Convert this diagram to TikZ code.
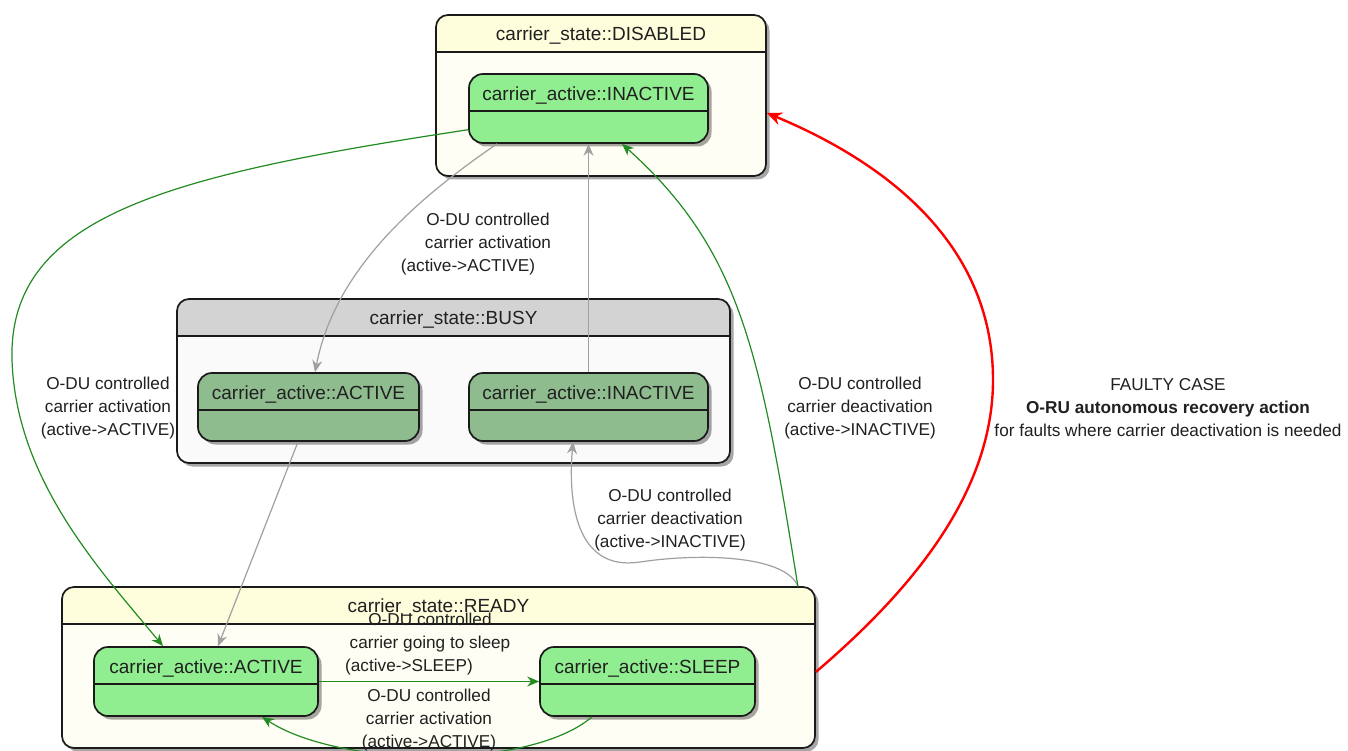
\documentclass[tikz,border=0pt]{standalone}
\usepackage{fontspec}
\setmainfont{Liberation Sans}
\usetikzlibrary{arrows.meta,shadows}
\definecolor{boxline}{HTML}{1A1A1A}
\definecolor{yhead}{HTML}{FEFDDC}
\definecolor{ybody}{HTML}{FFFEF4}
\definecolor{ghead}{HTML}{D3D3D3}
\definecolor{gbody}{HTML}{FAFAFA}
\definecolor{lgreen}{HTML}{90EE90}
\definecolor{dsgreen}{HTML}{8FBC8F}
\definecolor{egreen}{HTML}{228B22}
\definecolor{egray}{HTML}{A0A0A0}
\definecolor{ered}{HTML}{FF0000}
\definecolor{txt}{HTML}{202020}
\newcommand{\tfont}{\fontsize{19}{22}\selectfont}
\newcommand{\lfont}{\fontsize{17.2}{23}\selectfont}
\tikzset{
  statebox/.style 2 args={rectangle, draw=boxline, line width=1.7pt, rounded corners=12pt, fill=#2, inner sep=0pt,
    drop shadow={shadow xshift=3.5pt, shadow yshift=-3.5pt, opacity=0.35, fill=black},
    path picture={
      \fill[#1, sharp corners] (path picture bounding box.north west) rectangle ([yshift=-37pt]path picture bounding box.north east);
      \draw[boxline, line width=1.6pt, sharp corners] ([yshift=-37pt]path picture bounding box.north west) -- ([yshift=-37pt]path picture bounding box.north east);
    }},
  innerbox/.style={statebox={#1}{#1}, minimum height=69pt, rounded corners=14pt},
  ttl/.style={font=\tfont, inner sep=0pt, anchor=center, text=txt},
  conn/.style={line width=1.2pt, -{Stealth[length=12pt,width=10pt,inset=4pt]}},
  gconn/.style={conn, draw=egreen},
  yconn/.style={conn, draw=egray},
  rconn/.style={line width=2.4pt, draw=ered, -{Stealth[length=15pt,width=13pt,inset=5pt]}},
  lbl/.style={font=\lfont, align=center, inner sep=0pt, text=txt}
}
\begin{document}
\begin{tikzpicture}[x=1pt,y=-1pt]
\fill[white] (0,0) rectangle (1348,751);
\useasboundingbox (0,0) rectangle (1348,751);

% composite states
\node[statebox={yhead}{ybody}, minimum width=330pt, minimum height=161pt] (dis) at (601,95.5) {};
\node[ttl] (disT) at ([yshift=-21pt]dis.north) {carrier\_state::DISABLED};
\node[statebox={ghead}{gbody}, minimum width=553pt, minimum height=164pt] (busy) at (453.5,381) {};
\node[ttl] (busyT) at ([yshift=-21.5pt]busy.north) {carrier\_state::BUSY};
\node[statebox={yhead}{ybody}, minimum width=753pt, minimum height=161pt] (ready) at (438.5,667.5) {};
\node[ttl] (readyT) at ([yshift=-21pt]ready.north) {carrier\_state::READY};

% inner states
\node[innerbox=lgreen, minimum width=239pt] (disI) at (588.5,108.5) {};
\node[ttl] (disIT) at ([yshift=-22pt]disI.north) {carrier\_active::INACTIVE};
\node[innerbox=dsgreen, minimum width=221pt, minimum height=68pt] (busyA) at (308.5,407) {};
\node[ttl] (busyAT) at ([yshift=-22pt]busyA.north) {carrier\_active::ACTIVE};
\node[innerbox=dsgreen, minimum width=239pt, minimum height=68pt] (busyI) at (588.5,407) {};
\node[ttl] (busyIT) at ([yshift=-22pt]busyI.north) {carrier\_active::INACTIVE};
\node[innerbox=lgreen, minimum width=224pt] (readyA) at (206,681.5) {};
\node[ttl] (readyAT) at ([yshift=-22pt]readyA.north) {carrier\_active::ACTIVE};
\node[innerbox=lgreen, minimum width=215pt] (sleep) at (647.5,681.5) {};
\node[ttl] (sleepT) at ([yshift=-22pt]sleep.north) {carrier\_active::SLEEP};

% connectors
\draw[gconn] (disI.190) .. controls (170,175) and (8,215) .. (12,360)
   .. controls (16,480) and (100,570) .. ([xshift=-43pt]readyA.north);
\draw[yconn] ([xshift=-91.5pt]disI.south) .. controls (415,200) and (335,270) .. ([xshift=6.5pt]busyA.north);
\draw[yconn] (busyI.north) -- (disI.south);
\draw[yconn] ([xshift=-10.5pt]busyA.south) -- ([xshift=12pt]readyA.north);
\draw[yconn] ([xshift=-18pt]ready.north east) .. controls (785,555) and (700,553) .. (640,562)
   .. controls (575,572) and (568,500) .. ([xshift=-15.5pt]busyI.south);
\draw[gconn] ([xshift=-18pt]ready.north east) .. controls (760,350) and (740,250) .. ([xshift=33.5pt]disI.south);
\draw[rconn] ([yshift=-4.5pt]ready.east) .. controls (900,600) and (993,500) .. (993,380)
   .. controls (993,240) and (880,160) .. ([yshift=-17.5pt]dis.east);
\draw[gconn] (readyA.east) -- (sleep.west);
\draw[gconn] ([xshift=-55.5pt]sleep.south) .. controls (530,770) and (340,768) .. ([xshift=56pt]readyA.south);

% labels
\node[lbl] (l1) at (108,408) {O-DU controlled\\carrier activation\\(active->ACTIVE)};
\node[lbl] (l2) at (488,244) {O-DU controlled\\carrier activation\\(active->ACTIVE)\hspace*{40pt}};
\node[lbl] (l5) at (670,520) {O-DU controlled\\carrier deactivation\\(active->INACTIVE)};
\node[lbl] (l6) at (860,408) {O-DU controlled\\carrier deactivation\\(active->INACTIVE)};
\node[lbl] (l7) at (1168,408) {FAULTY CASE\\\textbf{O-RU autonomous recovery action}\\for faults where carrier deactivation is needed};
\node[lbl] (l8) at (430,644) {O-DU controlled\\carrier going to sleep\\(active->SLEEP)\hspace*{42pt}};
\node[lbl] (l9) at (429,720) {O-DU controlled\\carrier activation\\(active->ACTIVE)};
\end{tikzpicture}
\end{document}
